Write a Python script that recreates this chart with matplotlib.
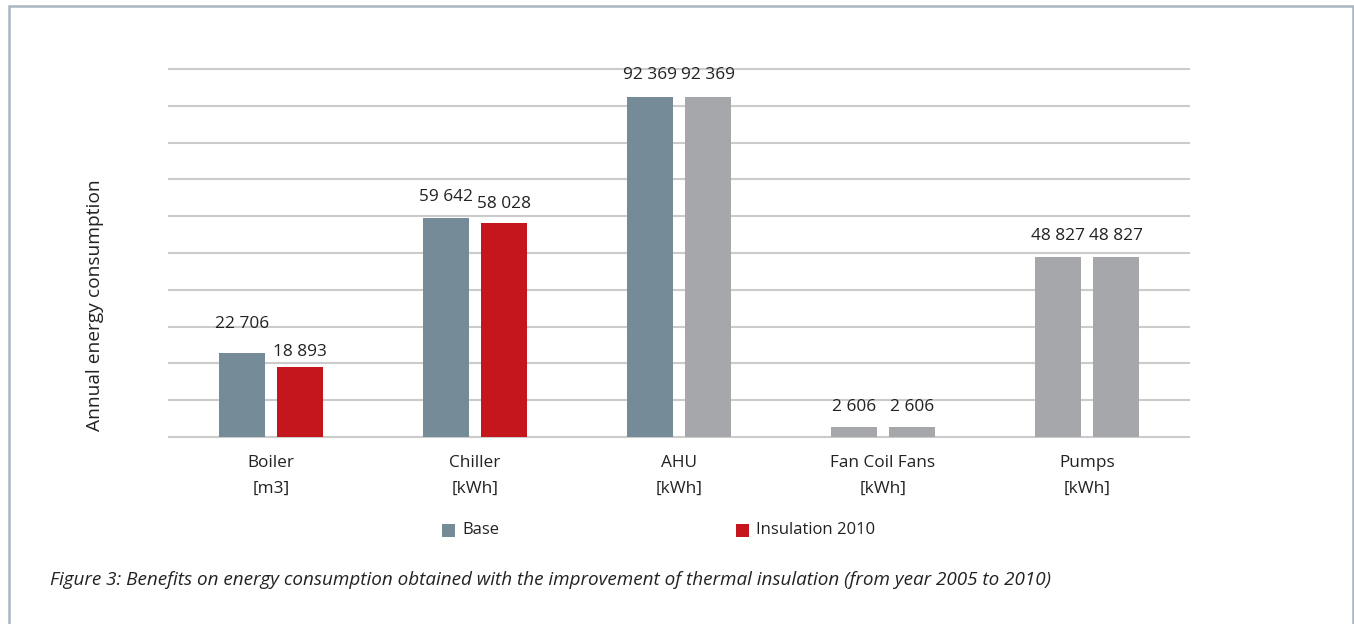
import matplotlib
matplotlib.use("Agg")
import matplotlib.pyplot as plt
from matplotlib.patches import Rectangle

categories = ["Boiler\n[m3]", "Chiller\n[kWh]", "AHU\n[kWh]", "Fan Coil Fans\n[kWh]", "Pumps\n[kWh]"]
base_values = [22706, 59642, 92369, 2606, 48827]
insulation_values = [18893, 58028, 92369, 2606, 48827]
base_labels = ["22 706", "59 642", "92 369", "2 606", "48 827"]
insulation_labels = ["18 893", "58 028", "92 369", "2 606", "48 827"]
series_names = ["Base", "Insulation 2010"]

BLUE = "#758b98"
RED = "#c5161e"
GRAY = "#a6a7ab"
base_colors = [BLUE, BLUE, BLUE, GRAY, GRAY]
ins_colors = [RED, RED, GRAY, GRAY, GRAY]

plt.rcParams['font.family'] = ['Open Sans', 'DejaVu Sans']

W, H = 1354, 624
fig = plt.figure(figsize=(W / 100, H / 100), dpi=100)
ax = fig.add_axes([169 / W, 1 - 437 / H, (1189 - 169) / W, (437 - 69) / H])

x = list(range(len(categories)))
bw = 0.225
off = 0.142
ax.bar([i - off for i in x], base_values, width=bw, color=base_colors, zorder=3)
ax.bar([i + off for i in x], insulation_values, width=bw, color=ins_colors, zorder=3)

ax.set_xlim(-0.5, len(categories) - 0.5)
ax.set_ylim(0, 100000)
ax.set_yticks(range(0, 100001, 10000))
ax.yaxis.grid(True, color="#cbcbcb", linewidth=1.5, zorder=0)
for gl in ax.get_ygridlines():
    gl.set_clip_on(False)
ax.set_yticklabels([])
ax.tick_params(axis="both", length=0)
for s in ax.spines.values():
    s.set_visible(False)
ax.set_xticks(x)
ax.set_xticklabels(categories, fontsize=12.4, color="#222222", linespacing=1.8)
ax.tick_params(axis="x", pad=13)

# label gap (pixels between bar top and label centre)
base_gap = [31, 23, 24, 22, 23]
ins_gap = [17, 21, 24, 22, 23]
for i in x:
    ax.annotate(base_labels[i], (i - off, base_values[i]), xytext=(0, base_gap[i] * 0.72),
                textcoords="offset points", ha="center", va="center_baseline", fontsize=12.4, color="#222222")
    ax.annotate(insulation_labels[i], (i + off, insulation_values[i]), xytext=(0, ins_gap[i] * 0.72),
                textcoords="offset points", ha="center", va="center_baseline", fontsize=12.4, color="#222222")

fig.text(95 / W, 1 - 305 / H, "Annual energy consumption", rotation=90, ha="center", va="center",
         fontsize=13.8, color="#222222")

# legend
for (px, name, col) in [(442, series_names[0], BLUE), (736, series_names[1], RED)]:
    fig.add_artist(Rectangle((px / W, 1 - 537 / H), 13 / W, 13 / H, transform=fig.transFigure,
                             facecolor=col, edgecolor="none"))
    fig.text((px + 20) / W, 1 - 530 / H, name, ha="left", va="center", fontsize=12, color="#222222")

fig.text(50 / W, 1 - 580 / H,
         "Figure 3: Benefits on energy consumption obtained with the improvement of thermal insulation (from year 2005 to 2010)",
         ha="left", va="center", fontsize=13.6, style="italic", color="#222222")

# frame
fig.add_artist(Rectangle((8.5 / W, -0.05), (1352.5 - 8.5) / W, 1.05 - 6 / H, transform=fig.transFigure,
                         facecolor="none", edgecolor="#a9b5c0", linewidth=1.8))

fig.savefig("out.png", dpi=100)
